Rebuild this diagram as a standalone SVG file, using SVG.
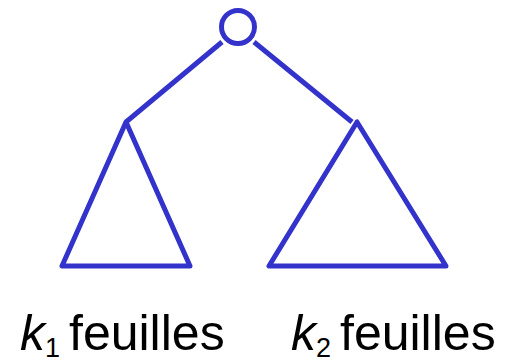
<svg xmlns="http://www.w3.org/2000/svg" width="517" height="363" viewBox="0 0 517 363">
<style>
.s{fill:none;stroke:#3333cc;stroke-width:5;stroke-linejoin:round;stroke-linecap:butt}
.t{font-family:"Liberation Sans",Arial,sans-serif;fill:#000}
.k{font-style:italic;font-size:50px}
.sub{font-size:27px}
.w{font-size:50px}
</style>
<rect width="517" height="363" fill="#fff"/>
<g id="edges">
<line class="s" x1="222" y1="42" x2="126" y2="122"/>
<line class="s" x1="254" y1="42" x2="352" y2="122"/>
</g>
<g id="root"><circle class="s" cx="238" cy="27" r="16.5"/></g>
<g id="left"><polygon class="s" points="126,122 62,266 190,266"/></g>
<g id="right"><polygon class="s" points="357,122 269,266 446,266"/></g>
<g id="label1" class="t">
<text class="k" x="20" y="350">k</text>
<text class="sub" x="45" y="357">1</text>
<text class="w" x="69" y="350">feuilles</text>
</g>
<g id="label2" class="t">
<text class="k" x="291" y="350">k</text>
<text class="sub" x="316" y="357">2</text>
<text class="w" x="340" y="350">feuilles</text>
</g>
</svg>
